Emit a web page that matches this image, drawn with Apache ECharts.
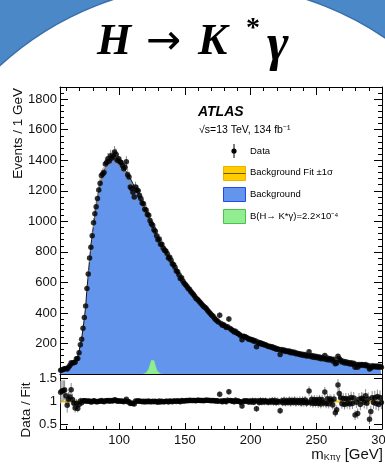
<!DOCTYPE html>
<html>
<head>
<meta charset="utf-8">
<title>H to K* gamma</title>
<style>
  html, body { margin: 0; padding: 0; background: #fff; }
  #chart { width: 385px; height: 466px; }
</style>
</head>
<body>
<div id="chart"></div>
<script src="https://cdn.jsdelivr.net/npm/echarts@6/dist/echarts.min.js"></script>
<script>
// 1 GeV bins, first one is 55-56 GeV
var binStart = 55
var binWidth = 1

// events per bin
var dataCounts = [
  24, 27, 31, 35, 36, 33, 44, 55, 73, 70,               // 55
  75, 77, 100, 102, 140, 192, 228, 300, 370, 445,       // 65
  560, 655, 760, 830, 905, 990, 1050, 1095, 1150, 1205, // 75
  1250, 1300, 1310, 1320, 1375, 1385, 1410, 1395, 1430, 1415, // 85
  1425, 1455, 1440, 1400, 1410, 1390, 1385, 1365, 1345, 1355, // 95
  1390, 1305, 1290, 1225, 1215, 1190, 1160, 1225, 1205, 1200, // 105
  1170, 1150, 1120, 1115, 1080, 1075, 1045, 1040, 1005, 985,  // 115
  975, 945, 935, 905, 880, 885, 850, 850, 825, 810,     // 125
  805, 790, 760, 765, 745, 720, 715, 700, 675, 670,     // 135
  650, 625, 630, 610, 595, 585, 575, 560, 555, 540,     // 145
  530, 520, 510, 495, 490, 480, 470, 460, 450, 440,     // 155
  435, 425, 415, 405, 395, 385, 378, 365, 355, 348,     // 165
  340, 385, 330, 320, 322, 315, 305, 310, 360, 298,     // 175
  290, 285, 275, 280, 268, 265, 258, 250, 225, 248,     // 185
  245, 240, 236, 228, 230, 222, 225, 215, 218, 178,     // 195
  210, 200, 205, 195, 198, 190, 192, 185, 180, 182,     // 205
  175, 178, 168, 172, 162, 165, 160, 128, 160, 152,     // 215
  158, 148, 152, 145, 150, 140, 145, 138, 142, 132,     // 225
  136, 130, 133, 124, 130, 122, 128, 118, 120, 146,     // 235
  115, 122, 110, 118, 108, 114, 104, 112, 100, 108,     // 245
  100, 122, 95, 104, 92, 100, 96, 85, 96, 67,           // 255
  72, 117, 100, 90, 78, 84, 72, 80, 70, 75,             // 265
  66, 74, 64, 70, 45, 62, 45, 63, 55, 62,               // 275
  60, 55, 62, 52, 56, 32, 40, 54, 48, 52,               // 285
  46, 52, 44, 50, 45                                    // 295
]

// background fit per bin
var fitCounts = [
  20, 22, 25, 28, 32, 36, 42, 50, 58, 67,
  78, 90, 104, 120, 150, 190, 235, 295, 365, 440,
  555, 650, 750, 840, 910, 975, 1040, 1100, 1155, 1200,
  1240, 1275, 1305, 1330, 1350, 1365, 1378, 1388, 1396, 1402,
  1405, 1404, 1400, 1395, 1388, 1380, 1371, 1361, 1350, 1338,
  1325, 1311, 1296, 1280, 1264, 1247, 1230, 1213, 1196, 1179,
  1162, 1144, 1126, 1108, 1089, 1070, 1050, 1030, 1010, 990,
  970, 950, 930, 911, 893, 876, 860, 845, 830, 815,
  800, 785, 770, 755, 740, 724, 708, 692, 676, 660,
  645, 630, 616, 602, 589, 576, 564, 552, 540, 529,
  518, 508, 498, 488, 478, 468, 459, 450, 441, 432,
  423, 414, 405, 396, 387, 378, 369, 360, 351, 343,
  338, 332, 327, 322, 317, 312, 307, 302, 297, 292,
  287, 282, 277, 272, 267, 262, 258, 254, 250, 246,
  242, 238, 234, 230, 227, 224, 221, 218, 215, 212,
  208, 205, 201, 198, 195, 192, 189, 186, 183, 180,
  177, 174, 171, 168, 166, 164, 162, 160, 158, 156,
  154, 152, 150, 148, 146, 144, 142, 140, 138, 136,
  134, 132, 130, 128, 127, 125, 124, 122, 121, 119,
  118, 116, 115, 113, 112, 110, 109, 107, 106, 104,
  103, 101, 100, 98, 97, 95, 94, 92, 91, 89,
  88, 86, 85, 83, 82, 79, 77, 75, 73, 71,
  70, 68, 67, 65, 64, 63, 61, 60, 59, 58,
  57, 56, 55, 54, 53, 52, 51, 50, 49, 48,
  48, 47, 47, 46, 46
]

// signal, B(H -> K* gamma) = 2.2e-4
var signalMass = [118.5, 119.5, 120.5, 121.5, 122.5, 123.5, 124.5, 125.5, 126.5, 127.5, 128.5, 129.5, 130.5, 131.5, 132.5]
var signalCounts = [1, 3, 7, 15, 32, 60, 90, 100, 88, 58, 30, 14, 6, 3, 1]

var xMajorTicks = [100, 150, 200, 250, 300]
var xMinorTicks = [60, 70, 80, 90, 110, 120, 130, 140, 160, 170, 180, 190, 210, 220, 230, 240, 260, 270, 280, 290]
var ratioTicks = [0.5, 1, 1.5]

var font = 'Liberation Sans, Arial, sans-serif'

var dataPts = [], dataErr = [], fitPts = [], fitRatio = [], ratioPts = [], ratioErr = []
for (var i = 0; i < dataCounts.length; i++) {
  var m = binStart + (i + 0.5) * binWidth
  var n = dataCounts[i], b = fitCounts[i]
  dataPts.push([m, n])
  dataErr.push([m, n, Math.sqrt(n)])
  fitPts.push([m, b])
  fitRatio.push([m, b / b])
  ratioPts.push([m, n / b])
  ratioErr.push([m, n / b, Math.sqrt(n) / b])
}
var signalPts = signalMass.map(function (x, k) { return [x, signalCounts[k]] })

function errorBars(params, api) {
  var x = api.value(0), y = api.value(1), e = api.value(2)
  var lo = api.coord([x, y - e]), hi = api.coord([x, y + e])
  return {
    type: 'line',
    shape: { x1: lo[0], y1: lo[1], x2: hi[0], y2: hi[1] },
    style: { stroke: '#8c8c8c', lineWidth: 1 }
  }
}

// x axis: ticks only, optional labels
function xAx(grid, pos, ticks, len, line, labels) {
  return {
    type: 'value', gridIndex: grid, position: pos, min: 55, max: 300,
    axisLine: { show: line, onZero: false, lineStyle: { color: '#000', width: 1 } },
    axisTick: { show: true, inside: true, length: len, customValues: ticks, lineStyle: { color: '#000' } },
    axisLabel: { show: labels, customValues: ticks, color: '#111', fontSize: 13, fontFamily: font, margin: 5 },
    splitLine: { show: false }
  }
}
function yMain(pos, step, len, line, labels) {
  return {
    type: 'value', gridIndex: 0, position: pos, min: 0, max: 1880, interval: step,
    axisLine: { show: line, onZero: false, lineStyle: { color: '#000', width: 1 } },
    axisTick: { show: true, inside: true, length: len, lineStyle: { color: '#000' } },
    axisLabel: {
      show: labels, color: '#111', fontSize: 13, fontFamily: font, margin: 3,
      formatter: function (v) { return (v === 0 || v > 1800) ? '' : v }
    },
    splitLine: { show: false }
  }
}
function yRatio(pos, labels) {
  return {
    type: 'value', gridIndex: 1, position: pos, min: 0.4, max: 1.6,
    axisLine: { show: true, onZero: false, lineStyle: { color: '#000', width: 1 } },
    axisTick: { show: true, inside: true, length: 8, customValues: ratioTicks, lineStyle: { color: '#000' } },
    axisLabel: { show: labels, customValues: ratioTicks, color: '#111', fontSize: 13, fontFamily: font, margin: 3 },
    splitLine: { show: false }
  }
}

function txt(x, y, s, size, extra) {
  var st = { text: s, x: 0, y: 0, fill: '#000', fontSize: size, fontFamily: font, align: 'left', verticalAlign: 'middle' }
  for (var k in extra) st[k] = extra[k]
  return { type: 'text', x: x, y: y, style: st, z: 10 }
}
var serif = 'Liberation Serif, DejaVu Serif, serif'

var chart = echarts.init(document.getElementById('chart'))
chart.setOption({
  animation: false,
  backgroundColor: '#fff',
  grid: [
    { left: 60, right: 3, top: 87, height: 287, outerBoundsMode: 'none' },
    { left: 60, right: 3, top: 374, height: 55, outerBoundsMode: 'none' }
  ],
  xAxis: [
    xAx(0, 'bottom', xMajorTicks, 8, true, false),
    xAx(0, 'bottom', xMinorTicks, 4, false, false),
    xAx(0, 'top', xMajorTicks, 8, true, false),
    xAx(0, 'top', xMinorTicks, 4, false, false),
    xAx(1, 'bottom', xMajorTicks, 6, true, true),
    xAx(1, 'bottom', xMinorTicks, 3, false, false)
  ],
  yAxis: [
    yMain('left', 200, 8, true, true),
    yMain('left', 40, 4, false, false),
    yMain('right', 200, 8, true, false),
    yMain('right', 40, 4, false, false),
    yRatio('left', true),
    yRatio('right', false)
  ],
  graphic: [
    // slide background corners
    { type: 'rect', shape: { x: 0, y: 0, width: 385, height: 120 }, style: { fill: '#4a88c8' }, z: -20 },
    { type: 'circle', shape: { cx: 210, cy: 295, r: 311 }, style: { fill: '#fff', stroke: '#3a6fa8', lineWidth: 1.5 }, z: -19 },
    // title
    txt(97, 43, 'H', 44, { fontFamily: serif, fontWeight: 'bold', fontStyle: 'italic' }),
    txt(146, 43, '→', 42, { fontFamily: 'DejaVu Sans' }),
    txt(198, 43, 'K', 44, { fontFamily: serif, fontWeight: 'bold', fontStyle: 'italic' }),
    txt(246, 29, '*', 28, { fontFamily: serif, fontWeight: 'bold' }),
    txt(267, 47, 'γ', 52, { fontFamily: serif, fontWeight: 'bold', fontStyle: 'italic' }),
    // labels
    txt(198, 112, 'ATLAS', 14, { fontWeight: 'bold', fontStyle: 'italic' }),
    txt(199, 130, '√s=13 TeV, 134 fb⁻¹', 10.5, {}),
    { type: 'line', shape: { x1: 234, y1: 144, x2: 234, y2: 158 }, style: { stroke: '#000', lineWidth: 1 }, z: 10 },
    { type: 'circle', shape: { cx: 234, cy: 151, r: 2.6 }, style: { fill: '#000' }, z: 10 },
    txt(250, 151, 'Data', 9.5, {}),
    { type: 'rect', shape: { x: 223.5, y: 166.5, width: 22, height: 14 }, style: { fill: '#ffcc00', stroke: '#f0b000', lineWidth: 1 }, z: 10 },
    { type: 'line', shape: { x1: 223.5, y1: 173.5, x2: 245.5, y2: 173.5 }, style: { stroke: '#6a5500', lineWidth: 1 }, z: 10 },
    txt(250, 172, 'Background Fit ±1σ', 9.5, {}),
    { type: 'rect', shape: { x: 223.5, y: 187.5, width: 22, height: 14 }, style: { fill: '#6495ed', stroke: '#2448e0', lineWidth: 1 }, z: 10 },
    txt(250, 194, 'Background', 9.5, {}),
    { type: 'rect', shape: { x: 223.5, y: 209.5, width: 22, height: 14 }, style: { fill: '#90ee90', stroke: '#4cc04c', lineWidth: 1 }, z: 10 },
    txt(250, 216, 'B(H→ K*γ)=2.2×10⁻⁴', 9.5, {}),
    // axis titles
    { type: 'text', x: 18, y: 88, rotation: Math.PI / 2, z: 10,
      style: { text: 'Events / 1 GeV', fill: '#111', fontSize: 13.5, fontFamily: font, align: 'right', verticalAlign: 'middle' } },
    { type: 'text', x: 26, y: 410, rotation: Math.PI / 2, z: 10,
      style: { text: 'Data / Fit', fill: '#111', fontSize: 13.5, fontFamily: font, align: 'center', verticalAlign: 'middle' } },
    { type: 'text', x: 383, y: 455, z: 10,
      style: {
        text: '{m|m}{s|Kπγ}{m| [GeV]}', align: 'right', verticalAlign: 'middle',
        rich: {
          m: { fontSize: 15, fontFamily: font, fill: '#111' },
          s: { fontSize: 9, fontFamily: font, fill: '#111', verticalAlign: 'bottom', padding: [6, 0, 0, 0] }
        }
      } }
  ],
  series: [
    {
      type: 'line', xAxisIndex: 0, yAxisIndex: 0, data: fitPts, symbol: 'none', z: 1,
      lineStyle: { color: '#111', width: 1 }, areaStyle: { color: '#6495ed', opacity: 1 }
    },
    {
      type: 'line', xAxisIndex: 0, yAxisIndex: 0, data: signalPts, symbol: 'none', z: 2,
      lineStyle: { color: '#88e888', width: 0.5 }, areaStyle: { color: '#90ee90', opacity: 1 }
    },
    {
      type: 'custom', xAxisIndex: 0, yAxisIndex: 0, data: dataErr, renderItem: errorBars, z: 3,
      encode: { x: 0, y: 1 }
    },
    {
      type: 'scatter', xAxisIndex: 0, yAxisIndex: 0, data: dataPts, symbolSize: 5.5, z: 4,
      itemStyle: { color: '#000' }
    },
    // fit / fit = 1, the yellow band in the ratio panel
    {
      type: 'line', xAxisIndex: 4, yAxisIndex: 4, data: fitRatio, symbol: 'none', z: 1,
      lineStyle: { color: '#f5c400', width: 2 }
    },
    {
      type: 'custom', xAxisIndex: 4, yAxisIndex: 4, data: ratioErr, renderItem: errorBars, z: 3,
      encode: { x: 0, y: 1 }
    },
    {
      type: 'scatter', xAxisIndex: 4, yAxisIndex: 4, data: ratioPts, symbolSize: 5.5, z: 4,
      itemStyle: { color: '#000' }
    }
  ]
})
</script>
</body>
</html>
